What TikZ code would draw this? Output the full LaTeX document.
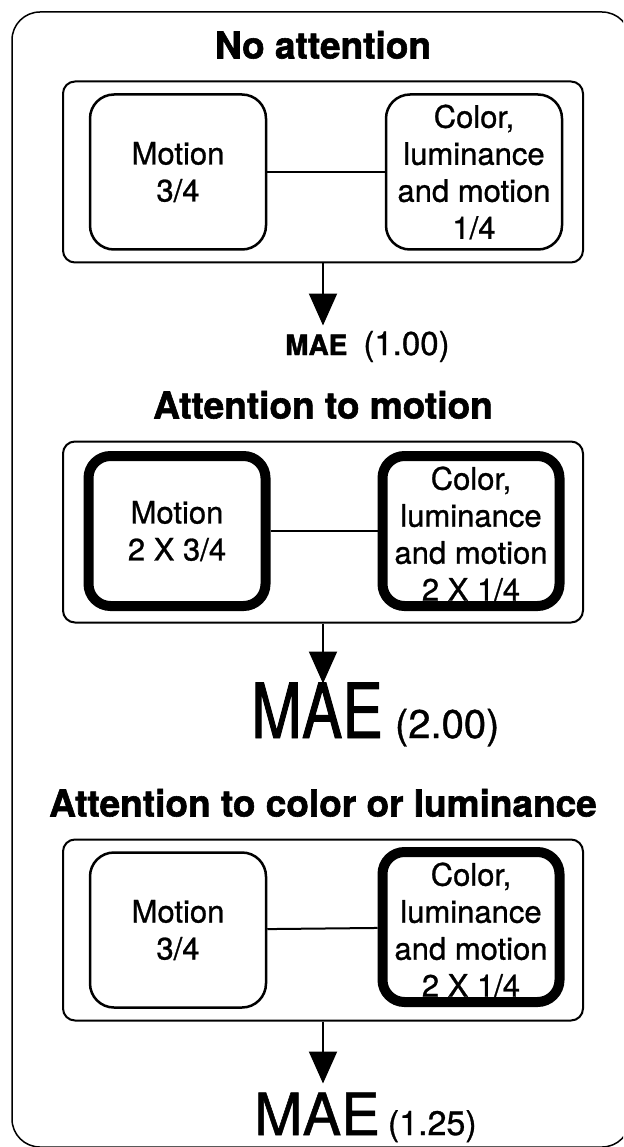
\documentclass[tikz,border=0pt]{standalone}
\usepackage{fontspec}
\setmainfont{TeX Gyre Heros}[FakeBold=0.9, BoldFeatures={FakeBold=1.6}]
\newfontfamily\tallfont[FakeStretch=0.8, FakeBold=1.2]{TeX Gyre Heros}
\usepackage{tikz}
\usetikzlibrary{arrows.meta, positioning}
\tikzstyle{frame}=[draw, line width=1.5pt, rounded corners=28pt]
\tikzstyle{panel}=[rectangle, draw, line width=2pt, rounded corners=12pt, minimum width=520pt, minimum height=181pt]
\tikzstyle{stage}=[rectangle, draw, line width=2.5pt, rounded corners=24pt, minimum width=176pt, minimum height=155pt, inner sep=0pt, align=center, font=\fontsize{31}{37}\selectfont]
\tikzstyle{boosted}=[stage, line width=10pt, rounded corners=22pt, minimum width=177pt, minimum height=150pt]
\tikzstyle{lowered}=[text height=140pt]
\tikzstyle{heading}=[font=\fontsize{37}{37}\selectfont\bfseries, inner sep=0pt]
\tikzstyle{link}=[line width=2pt]
\tikzstyle{flow}=[line width=2pt, -{Triangle[width=28pt, length=32pt]}]

\begin{document}
\begin{tikzpicture}[x=1pt, y=-1pt]
\useasboundingbox (0,0) rectangle (623,1147);
\clip (0,0) rectangle (623,1147);
\draw[frame] (12,12) rectangle (630,1147);

% No attention
\node[panel] (p1) at (323,172) {};
\node[heading, above=22pt of p1, anchor=base] (h1) {No attention};
\node[stage] (m1) at (178,172) {Motion\\3/4};
\node[stage] (c1) at (474,172) {Color,\\luminance\\and motion\\1/4};
\draw[link] (m1) -- (c1);
\coordinate[below=62pt of p1] (t1);
\draw[flow] (p1) -- (t1);
\node[anchor=base west, inner sep=0pt] (mae1) at (285,355)
    {\fontsize{28}{28}\selectfont\bfseries MAE\hspace{16pt}\mdseries\fontsize{33}{33}\selectfont(1.00)};

% Attention to motion
\node[panel] (p2) at (323,532) {};
\node[heading, above=22pt of p2, anchor=base] (h2) {Attention to motion};
\node[boosted] (m2) at (177,531) {Motion\\2 X 3/4};
\node[boosted, lowered] (c2) at (471,531) {Color,\\luminance\\and motion\\2 X 1/4};
\draw[link] (m2) -- (c2);
\coordinate[below=60pt of p2] (t2);
\draw[flow] (p2) -- (t2);
\node[anchor=base west, inner sep=0pt] (mae2) at (251,738)
    {\tallfont\fontsize{76}{76}\selectfont MAE\hspace{12pt}\rmfamily\fontsize{40}{40}\selectfont(2.00)};

% Attention to color or luminance
\node[panel] (p3) at (323,930) {};
\node[heading, above=22pt of p3, anchor=base] (h3) {Attention to color or luminance};
\node[stage] (m3) at (178,930) {Motion\\3/4};
\node[boosted, lowered] (c3) at (471,927) {Color,\\luminance\\and motion\\2 X 1/4};
\draw[link] (m3) -- (c3);
\coordinate[below=62pt of p3] (t3);
\draw[flow] (p3) -- (t3);
\node[anchor=base west, inner sep=0pt] (mae3) at (254,1135)
    {\fontsize{58}{58}\selectfont MAE\hspace{8pt}\fontsize{34}{34}\selectfont(1.25)};

\end{tikzpicture}
\end{document}
